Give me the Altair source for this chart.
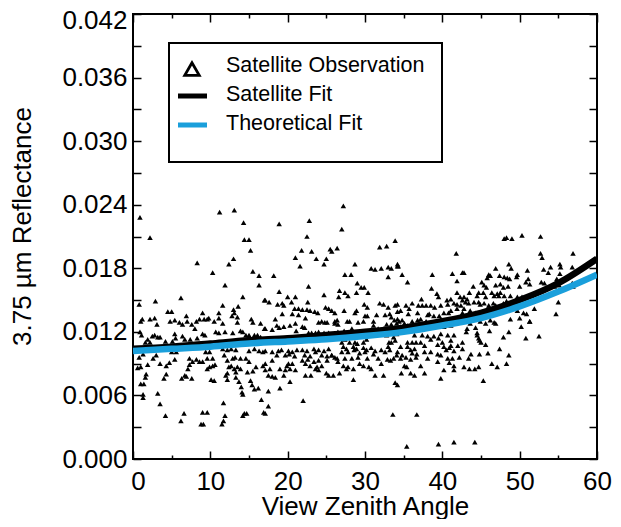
import altair as alt
import pandas as pd

FONT = "Liberation Sans"
BLUE = "#1a9fdb"

obs_0_9 = [
    (0.9, .0228), (2.2, .0209), (8.3, .0185), (6.2, .0152), (0.8, .0146), (2.9, .0149), (4.5, .0139),
    (5.0, .0139), (6.9, .0135), (1.0, .0130), (1.2, .0132), (2.2, .0132), (2.8, .0133), (3.1, .0127),
    (4.8, .0130), (5.4, .0131), (6.0, .0129), (6.4, .0127), (7.0, .0130), (7.6, .0127), (8.2, .0130),
    (8.0, .0123), (0.9, .0120), (1.1, .0117), (1.9, .0113), (2.5, .0116), (2.8, .0117), (3.2, .0115),
    (3.5, .0115), (1.6, .0110), (2.2, .0110), (4.2, .0111), (5.1, .0111), (5.4, .0118), (5.5, .0114),
    (6.4, .0116), (6.7, .0113), (7.4, .0113), (8.3, .0114), (0.8, .0096), (1.3, .0099), (2.6, .0095),
    (3.0, .0098), (5.0, .0101), (5.6, .0101), (1.9, .0089), (3.5, .0090), (4.3, .0088), (4.7, .0091),
    (5.4, .0094), (7.3, .0095), (7.7, .0092), (8.2, .0094), (0.6, .0086), (1.0, .0087), (7.3, .0089),
    (7.1, .0085), (1.7, .0080), (1.6, .0077), (4.3, .0080), (4.0, .0076), (6.7, .0079), (6.3, .0076),
    (7.6, .0076), (6.9, .0078), (1.0, .0071), (1.4, .0071), (1.3, .0061), (1.3, .0058), (3.2, .0062),
    (3.5, .0052), (4.2, .0041), (6.6, .0043), (6.2, .0036),
]
obs_9_17 = [
    (11.2, .0233), (13.1, .0235), (14.3, .0223), (14.4, .0207), (15.0, .0207), (15.2, .0197), (13.0, .0189),
    (12.4, .0184), (10.3, .0176), (15.5, .0177), (16.3, .0173), (11.9, .0164), (16.3, .0164), (14.2, .0153),
    (17.0, .0150), (11.6, .0145), (13.6, .0144), (13.0, .0141), (13.1, .0138), (9.0, .0138), (11.1, .0138),
    (8.6, .0132), (9.2, .0132), (9.6, .0132), (9.8, .0133), (10.5, .0130), (11.1, .0133), (11.6, .0128),
    (12.8, .0135), (13.5, .0134), (13.5, .0129), (15.3, .0132), (15.5, .0129), (16.5, .0128), (17.0, .0123),
    (9.0, .0118), (9.3, .0117), (10.7, .0120), (11.1, .0119), (11.9, .0120), (12.9, .0119), (13.9, .0121),
    (14.2, .0120), (14.6, .0117), (15.0, .0117), (15.7, .0117), (16.1, .0117), (16.5, .0115), (11.6, .0104),
    (12.2, .0103), (12.7, .0104), (13.3, .0103), (15.0, .0102), (15.7, .0104), (16.3, .0102), (16.8, .0101),
    (9.4, .0101), (9.9, .0101), (11.8, .0098), (9.6, .0095), (10.3, .0095), (12.2, .0093), (12.9, .0095),
    (13.2, .0096), (13.9, .0095), (14.6, .0095), (15.0, .0092), (8.6, .0092), (9.0, .0092), (10.6, .0089),
    (10.3, .0088), (9.9, .0087), (9.6, .0085), (12.4, .0087), (12.7, .0088), (13.5, .0087), (13.9, .0085),
    (15.9, .0087), (16.8, .0088), (17.1, .0090), (12.0, .0079), (12.2, .0081), (13.1, .0085), (13.3, .0082),
    (14.8, .0082), (15.5, .0083), (10.1, .0075), (10.5, .0074), (12.2, .0075), (13.3, .0077), (13.7, .0073),
    (15.2, .0074), (15.4, .0070), (14.0, .0068), (14.1, .0063), (14.2, .0061), (15.7, .0066), (16.2, .0067),
    (16.6, .0056), (11.7, .0053), (9.0, .0044), (9.6, .0044), (11.9, .0041), (11.7, .0036), (11.5, .0033),
    (14.4, .0043), (14.2, .0041), (14.7, .0043), (16.9, .0044), (8.8, .0033), (9.1, .0033),
]
obs_17_26 = [
    (18.9, .0222), (22.8, .0225), (22.5, .0210), (21.8, .0197), (23.1, .0196), (25.5, .0198), (21.0, .0190),
    (23.7, .0189), (25.0, .0189), (21.6, .0182), (24.7, .0184), (18.2, .0173), (22.7, .0163), (18.9, .0158),
    (24.7, .0155), (20.0, .0153), (21.0, .0153), (17.6, .0148), (17.1, .0150), (18.7, .0146), (19.3, .0147),
    (19.5, .0145), (20.5, .0148), (22.6, .0148), (20.9, .0142), (21.4, .0142), (21.9, .0141), (22.5, .0141),
    (22.9, .0140), (23.5, .0139), (23.9, .0138), (24.9, .0143), (25.3, .0142), (18.4, .0132), (19.3, .0137),
    (20.6, .0137), (21.4, .0136), (22.3, .0133), (24.0, .0129), (24.4, .0130), (24.8, .0129), (25.1, .0129),
    (17.1, .0123), (18.0, .0122), (18.6, .0126), (18.9, .0124), (19.5, .0125), (20.3, .0126), (21.0, .0128),
    (21.9, .0125), (22.2, .0124), (21.1, .0121), (22.7, .0119), (23.1, .0119), (23.6, .0119), (24.0, .0120),
    (24.7, .0119), (25.3, .0119), (17.1, .0102), (18.0, .0101), (18.8, .0102), (19.2, .0103), (20.1, .0102),
    (20.6, .0101), (21.2, .0103), (21.9, .0103), (22.5, .0102), (23.4, .0104), (24.0, .0103), (24.7, .0102),
    (25.3, .0104), (18.6, .0098), (19.7, .0098), (20.2, .0099), (20.9, .0097), (22.2, .0098), (22.9, .0097),
    (23.6, .0101), (24.4, .0098), (25.1, .0097), (25.7, .0098), (18.0, .0093), (21.9, .0093), (22.6, .0094),
    (23.4, .0092), (24.0, .0093), (25.1, .0093), (20.1, .0090), (20.6, .0090), (19.9, .0088), (22.3, .0090),
    (22.9, .0088), (23.8, .0087), (24.4, .0088), (17.1, .0084), (17.7, .0085), (19.0, .0085), (19.7, .0084),
    (20.3, .0085), (21.0, .0084), (23.6, .0085), (24.0, .0084), (25.0, .0081), (25.3, .0079), (17.5, .0079),
    (18.0, .0078), (18.4, .0077), (19.5, .0079), (22.3, .0079), (23.0, .0079), (20.3, .0073), (19.0, .0067),
    (17.5, .0064), (22.0, .0055), (17.5, .0050), (17.1, .0043),
]
obs_26_34 = [
    (27.2, .0239), (27.0, .0217), (25.7, .0196), (26.4, .0199), (31.9, .0200), (32.8, .0201), (33.9, .0206),
    (28.7, .0184), (27.4, .0174), (28.2, .0174), (30.8, .0180), (31.3, .0179), (32.1, .0180), (33.0, .0181),
    (33.4, .0180), (34.2, .0182), (33.0, .0172), (29.0, .0166), (29.5, .0162), (28.9, .0157), (29.9, .0162),
    (30.4, .0157), (26.7, .0159), (27.4, .0157), (27.8, .0154), (26.6, .0153), (29.9, .0146), (30.3, .0143),
    (31.9, .0147), (32.4, .0146), (33.0, .0143), (33.9, .0145), (25.7, .0140), (26.1, .0138), (27.3, .0140),
    (28.7, .0138), (28.9, .0140), (30.0, .0135), (30.3, .0135), (31.5, .0136), (32.6, .0136), (33.2, .0137),
    (33.4, .0134), (26.1, .0130), (26.4, .0131), (27.7, .0130), (28.0, .0130), (29.1, .0129), (29.8, .0130),
    (31.1, .0130), (33.8, .0131), (26.1, .0128), (26.5, .0127), (31.1, .0126), (32.8, .0127), (33.4, .0127),
    (34.1, .0128), (26.5, .0120), (27.3, .0121), (28.3, .0123), (29.1, .0120), (31.7, .0123), (32.4, .0123),
    (32.8, .0117), (33.7, .0115), (34.1, .0118), (26.7, .0115), (27.0, .0110), (27.4, .0113), (28.0, .0110),
    (28.7, .0110), (29.0, .0109), (29.8, .0110), (30.2, .0113), (33.1, .0110), (33.4, .0110), (33.9, .0112),
    (27.2, .0106), (27.6, .0104), (28.5, .0106), (28.6, .0103), (28.9, .0104), (29.8, .0105), (30.2, .0103),
    (30.8, .0105), (31.3, .0102), (32.1, .0103), (33.0, .0106), (33.2, .0103), (27.0, .0101), (27.8, .0101),
    (29.3, .0100), (30.0, .0101), (31.1, .0099), (32.6, .0101), (25.7, .0098), (26.1, .0096), (26.4, .0095),
    (27.4, .0095), (28.3, .0095), (29.1, .0096), (30.3, .0095), (31.7, .0095), (32.9, .0094), (33.7, .0095),
    (34.1, .0098), (26.5, .0092), (27.2, .0088), (27.8, .0087), (28.5, .0085), (29.3, .0090), (29.8, .0088),
    (30.5, .0087), (30.8, .0085), (32.1, .0090), (33.3, .0093), (27.6, .0085), (25.9, .0079), (26.7, .0081),
    (31.3, .0079), (32.4, .0079), (28.5, .0075), (33.9, .0072), (33.6, .0042),
]
obs_34_43 = [
    (41.8, .0194), (34.2, .0184), (34.3, .0182), (34.8, .0174), (38.7, .0174), (41.3, .0175), (42.6, .0176),
    (35.5, .0167), (41.9, .0168), (38.6, .0161), (41.9, .0157), (39.3, .0156), (39.5, .0153), (37.3, .0151),
    (41.1, .0151), (40.6, .0150), (42.3, .0153), (42.6, .0150), (34.2, .0146), (35.3, .0145), (36.1, .0147),
    (36.9, .0145), (37.4, .0145), (37.9, .0145), (38.5, .0145), (39.8, .0145), (40.7, .0146), (41.5, .0147),
    (41.9, .0146), (42.4, .0145), (35.7, .0142), (36.8, .0138), (39.0, .0143), (40.2, .0138), (40.8, .0138),
    (41.9, .0142), (34.2, .0139), (34.6, .0140), (35.6, .0137), (38.1, .0136), (38.3, .0137), (38.9, .0135),
    (39.6, .0135), (41.1, .0140), (42.6, .0138), (34.2, .0132), (34.4, .0130), (34.8, .0131), (35.1, .0128),
    (36.1, .0130), (36.8, .0131), (37.2, .0132), (37.9, .0130), (39.4, .0129), (39.8, .0132), (40.7, .0131),
    (41.3, .0132), (34.6, .0125), (35.5, .0126), (36.4, .0125), (37.1, .0128), (37.7, .0128), (38.5, .0127),
    (39.0, .0125), (40.2, .0125), (41.1, .0126), (41.5, .0128), (36.4, .0117), (37.4, .0117), (38.1, .0116),
    (38.9, .0116), (39.8, .0118), (40.7, .0117), (41.5, .0117), (35.5, .0110), (36.1, .0110), (36.6, .0110),
    (37.2, .0110), (38.5, .0113), (39.5, .0114), (40.0, .0110), (41.1, .0112), (42.6, .0110), (34.6, .0106),
    (35.5, .0106), (35.9, .0103), (36.4, .0104), (37.7, .0107), (39.4, .0108), (40.2, .0106), (40.9, .0105),
    (41.1, .0107), (42.0, .0107), (34.2, .0101), (34.8, .0098), (35.3, .0096), (36.1, .0100), (36.7, .0099),
    (37.7, .0101), (38.5, .0101), (39.4, .0099), (40.5, .0103), (41.5, .0102), (42.6, .0104), (34.6, .0095),
    (35.9, .0094), (36.6, .0096), (38.1, .0095), (39.8, .0098), (40.7, .0095), (41.3, .0095), (42.2, .0096),
    (35.1, .0088), (35.4, .0087), (37.2, .0088), (39.4, .0092), (40.9, .0091), (41.5, .0088), (34.7, .0081),
    (35.9, .0081), (36.4, .0079), (37.7, .0081), (40.2, .0084), (41.5, .0084), (39.8, .0076), (34.2, .0070),
    (36.7, .0042), (35.4, .0012), (39.5, .0014), (41.5, .0016),
]
obs_43_60 = [
    (48.0, .0208), (48.3, .0209), (49.0, .0208), (50.3, .0211), (48.6, .0184), (48.9, .0180), (46.9, .0180),
    (51.0, .0178), (42.8, .0176), (46.0, .0174), (45.8, .0171), (46.2, .0173), (47.4, .0173), (48.0, .0172),
    (48.4, .0171), (48.7, .0170), (49.7, .0174), (49.6, .0172), (50.8, .0167), (51.1, .0170), (45.1, .0167),
    (45.4, .0164), (44.0, .0163), (45.7, .0162), (46.9, .0164), (47.5, .0165), (47.9, .0162), (48.5, .0163),
    (50.0, .0163), (43.5, .0157), (44.7, .0157), (45.3, .0157), (46.4, .0157), (46.7, .0154), (47.1, .0156),
    (47.3, .0154), (47.5, .0157), (48.0, .0154), (42.8, .0153), (43.2, .0151), (44.5, .0154), (45.6, .0153),
    (48.8, .0154), (49.7, .0153), (50.3, .0153), (43.0, .0148), (43.4, .0147), (44.1, .0148), (44.7, .0148),
    (44.9, .0146), (45.4, .0147), (46.0, .0145), (46.6, .0147), (46.9, .0145), (47.9, .0147), (48.3, .0149),
    (42.8, .0142), (43.6, .0140), (44.3, .0138), (45.4, .0139), (45.9, .0142), (47.1, .0142), (48.8, .0143),
    (49.7, .0140), (50.5, .0138), (50.9, .0137), (51.3, .0130), (50.0, .0133), (43.0, .0135), (43.6, .0128),
    (44.9, .0130), (45.6, .0128), (46.2, .0131), (46.7, .0129), (46.9, .0128), (48.8, .0132), (50.2, .0125),
    (43.2, .0123), (44.3, .0124), (43.1, .0120), (44.5, .0119), (46.1, .0121), (47.9, .0115), (48.6, .0120),
    (50.8, .0114), (44.5, .0117), (44.8, .0112), (44.7, .0114), (45.0, .0110), (45.6, .0108), (47.4, .0104),
    (48.6, .0098), (45.9, .0100), (44.8, .0099), (43.7, .0099), (43.4, .0095), (44.7, .0087), (42.8, .0087),
    (43.5, .0085), (44.2, .0085), (46.4, .0090), (47.1, .0087), (48.3, .0090), (45.3, .0074), (44.2, .0016),
    (52.7, .0210), (52.7, .0194), (52.9, .0190), (56.9, .0194), (53.1, .0179), (53.7, .0176), (54.0, .0181),
    (55.2, .0184), (55.3, .0181), (55.2, .0175), (56.8, .0181), (56.8, .0166), (56.9, .0163), (51.3, .0165),
    (52.8, .0167), (53.2, .0166), (54.8, .0170), (55.1, .0164), (54.5, .0163), (51.9, .0142), (55.0, .0148),
    (54.7, .0137), (51.3, .0130), (52.5, .0116),
]

# ---- fitted curves ----
fit_angle = [0, 5, 10, 15, 20, 25, 30, 35, 40, 45, 50, 55, 60]
sat_fit = [.0104, .0106, .0109, .0112, .0114, .0117, .0120, .0124, .0130, .0138, .0150, .0166, .0189]
theo_fit = [.0102, .0104, .0106, .0109, .0111, .0113, .0116, .0120, .0126, .0133, .0144, .0158, .0174]

# ---- axes ----
x_label_values = [0, 10, 20, 30, 40, 50, 60]
x_minor_values = [5, 15, 25, 35, 45, 55]
y_label_values = [0.000, 0.006, 0.012, 0.018, 0.024, 0.030, 0.036, 0.042]
y_tick_values = [0.000, 0.003, 0.006, 0.009, 0.012, 0.015, 0.018, 0.021,
                 0.024, 0.027, 0.030, 0.033, 0.036, 0.039, 0.042]

legend_labels = ["Satellite Observation", "Satellite Fit", "Theoretical Fit"]

all_obs = obs_0_9 + obs_9_17 + obs_17_26 + obs_26_34 + obs_34_43 + obs_43_60
obs = pd.DataFrame(all_obs, columns=["angle", "refl"])
fits = pd.DataFrame({"angle": fit_angle, "sat": sat_fit, "theo": theo_fit})

xs = alt.Scale(domain=[0, 60], nice=False, zero=False)
ys = alt.Scale(domain=[0, 0.042], nice=False, zero=False)


def tick_axis(orient, values, size):
    return alt.Axis(orient=orient, values=values, labels=False, domain=False, grid=False,
                    ticks=True, tickSize=size, tickWidth=1.5, tickColor="black",
                    offset=-size, title=None)


x_lab = alt.Axis(orient="bottom", values=x_label_values, format="d", labelFlush=False,
                 labelFont=FONT, labelFontSize=26, labelColor="black", labelPadding=9,
                 labelOffset={"condition": {"test": "datum.value < 0.5", "value": 5}, "value": 0},
                 ticks=False, tickSize=0, domain=False, grid=False,
                 title="View Zenith Angle", titleFont=FONT, titleFontSize=26,
                 titleFontWeight="normal", titleColor="black", titleX=232, titleY=55,
                 titleBaseline="alphabetic", titleAlign="center")
y_lab = alt.Axis(orient="left", values=y_label_values, format=".3f", labelFlush=False,
                 labelFont=FONT, labelFontSize=26, labelColor="black", labelPadding=6,
                 labelOffset={"condition": {"test": "datum.value > 0.0415", "value": 6}, "value": 0},
                 ticks=False, tickSize=0, domain=False, grid=False,
                 title="3.75 µm Reflectance", titleFont=FONT, titleFontSize=26,
                 titleFontWeight="normal", titleColor="black", titleX=-111, titleY=212,
                 titleBaseline="middle", titleAlign="center")

scatter = alt.Chart(obs).mark_point(shape="triangle-up", filled=True, size=30, color="black",
                                    opacity=1).encode(
    x=alt.X("angle:Q", scale=xs, axis=x_lab),
    y=alt.Y("refl:Q", scale=ys, axis=y_lab),
)

sat_line = alt.Chart(fits).mark_line(color="black", strokeWidth=6.5, interpolate="monotone",
                                     clip=True).encode(
    x=alt.X("angle:Q", scale=xs, axis=tick_axis("bottom", x_label_values, 8)),
    y=alt.Y("sat:Q", scale=ys, axis=tick_axis("left", y_tick_values, 8)),
)

theo_line = alt.Chart(fits).mark_line(color=BLUE, strokeWidth=6.5, interpolate="monotone",
                                      clip=True).encode(
    x=alt.X("angle:Q", scale=xs, axis=tick_axis("top", x_label_values, 8)),
    y=alt.Y("theo:Q", scale=ys, axis=tick_axis("right", y_tick_values, 8)),
)

minor_bottom = alt.Chart(fits).mark_point(opacity=0).encode(
    x=alt.X("angle:Q", scale=xs, axis=tick_axis("bottom", x_minor_values, 4)),
    y=alt.Y("theo:Q", scale=ys, axis=None),
)
minor_top = alt.Chart(fits).mark_point(opacity=0).encode(
    x=alt.X("angle:Q", scale=xs, axis=tick_axis("top", x_minor_values, 4)),
    y=alt.Y("sat:Q", scale=ys, axis=None),
)

one = alt.Data(values=[{}])
legend_box = alt.Chart(one).mark_rect(fill="white", stroke="black", strokeWidth=2).encode(
    x=alt.value(36), x2=alt.value(309), y=alt.value(29), y2=alt.value(148))
legend_tri = alt.Chart(one).mark_point(shape="triangle-up", filled=False, stroke="black",
                                       strokeWidth=2.8, size=210, opacity=1).encode(
    x=alt.value(59), y=alt.value(55))
legend_sat = alt.Chart(one).mark_rule(color="black", strokeWidth=5).encode(
    x=alt.value(45), x2=alt.value(74), y=alt.value(82))
legend_theo = alt.Chart(one).mark_rule(color=BLUE, strokeWidth=5).encode(
    x=alt.value(45), x2=alt.value(74), y=alt.value(111))


def legend_text(label, ypos):
    return alt.Chart(one).mark_text(align="left", baseline="middle", font=FONT, fontSize=21.5,
                                    color="black").encode(
        x=alt.value(93), y=alt.value(ypos), text=alt.value(label))


chart = alt.layer(
    scatter, sat_line, theo_line, minor_bottom, minor_top,
    legend_box, legend_tri, legend_sat, legend_theo,
    legend_text(legend_labels[0], 52), legend_text(legend_labels[1], 81),
    legend_text(legend_labels[2], 110),
).resolve_axis(x="independent", y="independent").properties(
    width=464, height=445,
    padding={"left": 125, "top": 6, "right": 15, "bottom": 60},
    autosize=alt.AutoSizeParams(type="none"),
).configure_view(stroke="black", strokeWidth=2)

chart.save("out.html", embed_options={"renderer": "svg", "actions": False})
